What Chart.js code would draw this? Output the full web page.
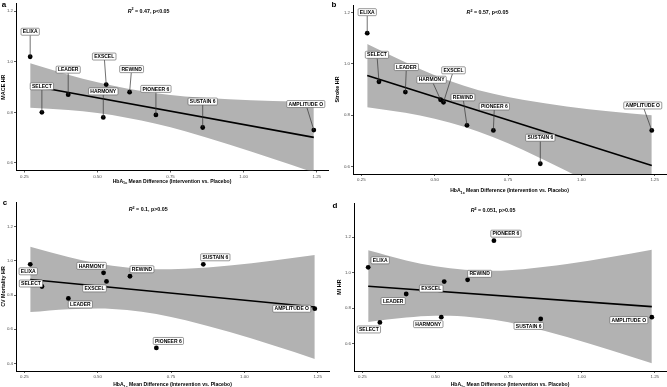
<!DOCTYPE html>
<html>
<head>
<meta charset="utf-8">
<title>HbA1c difference vs outcome HR</title>
<script src="https://cdn.jsdelivr.net/npm/chart.js@4.4.1/dist/chart.umd.min.js"></script>
<style>
  html, body { margin: 0; padding: 0; background: #fff; }
  #wrap { position: relative; width: 667px; height: 387px; overflow: hidden; }
  #wrap canvas { position: absolute; left: 0; top: 0; }
</style>
</head>
<body>
<div id="wrap">
  <canvas id="panelA" width="667" height="387"></canvas>
  <canvas id="panelB" width="667" height="387"></canvas>
  <canvas id="panelC" width="667" height="387"></canvas>
  <canvas id="panelD" width="667" height="387"></canvas>
</div>
<script>
// Trials and HbA1c mean difference (intervention vs placebo), shared by all panels
const trials = ['ELIXA', 'SELECT', 'LEADER', 'HARMONY', 'EXSCEL', 'REWIND', 'PIONEER 6', 'SUSTAIN 6', 'AMPLITUDE O'];
const hba1cDiff = [0.27, 0.31, 0.40, 0.52, 0.53, 0.61, 0.70, 0.86, 1.24];

// Hazard ratios per outcome
const maceHR = [1.02, 0.80, 0.87, 0.78, 0.91, 0.88, 0.79, 0.74, 0.73];
const strokeHR = [1.12, 0.93, 0.89, 0.86, 0.85, 0.76, 0.74, 0.61, 0.74];
const cvDeathHR = [0.98, 0.85, 0.78, 0.93, 0.88, 0.91, 0.49, 0.98, 0.72];
const miHR = [1.03, 0.72, 0.88, 0.75, 0.95, 0.96, 1.18, 0.74, 0.75];

// Regression line ends and 95% band
const fitX = [0.27, 1.24];
const maceFit = [0.906, 0.701];
const strokeFit = [0.955, 0.603];
const cvDeathFit = [0.891, 0.730];
const miFit = [0.924, 0.809];

const bandX = [0.27, 0.40, 0.50, 0.60, 0.70, 0.80, 0.95, 1.10, 1.24];
const maceUpper = [0.994, 0.949, 0.919, 0.894, 0.876, 0.863, 0.852, 0.845, 0.841];
const maceLower = [0.818, 0.809, 0.797, 0.779, 0.755, 0.725, 0.673, 0.616, 0.562];
const strokeUpper = [1.078, 1.006, 0.956, 0.915, 0.883, 0.860, 0.834, 0.814, 0.799];
const strokeLower = [0.831, 0.809, 0.786, 0.755, 0.714, 0.665, 0.582, 0.493, 0.407];
const cvDeathUpper = [1.083, 1.023, 0.985, 0.961, 0.951, 0.954, 0.973, 1.003, 1.034];
const cvDeathLower = [0.700, 0.717, 0.721, 0.712, 0.689, 0.652, 0.583, 0.504, 0.426];
const miUpper = [1.126, 1.069, 1.036, 1.016, 1.011, 1.020, 1.049, 1.088, 1.129];
const miLower = [0.723, 0.748, 0.758, 0.754, 0.735, 0.703, 0.638, 0.564, 0.490];

// Tick labels
const xTicks = [0.25, 0.50, 0.75, 1.00, 1.25];
const yTicksAB = [0.6, 0.8, 1.0, 1.2];
const yTicksC = [0.4, 0.6, 0.8, 1.0, 1.2];
const yTicksD = [0.6, 0.8, 1.0, 1.2];

// Fit statistics
const r2Values = ['0.47', '0.57', '0.1', '0.051'];
const pTexts = ['p<0.05', 'p<0.05', 'p>0.05', 'p>0.05'];

// label box offsets from each point (px)
const offsetsA = [[0, -25], [0, -26], [0, -25], [0, -26], [-2, -28], [2, -23], [0, -26], [0, -26], [-8, -26]];
const offsetsB = [[0, -21], [-2, -27], [1, -25], [-9, -20], [10, -32], [-4, -28], [1, -24], [0, -26], [-9, -25]];
const offsetsC = [[-2, 7], [-11, -3], [12, 6], [-12, -7], [-12, 7], [12, -7], [12, -7], [12, -7], [-23, 0]];
const offsetsD = [[12, -7], [-11, 7], [-13, 7], [-13, 7], [-13, 7], [12, -6], [12, -7], [-12, 7], [-23, 3]];

const FONT = '"Liberation Sans", Arial, Helvetica, sans-serif';
const X_MIN = 0.2215, X_MAX = 1.2885;

const panels = [
  { idx: 0, id: 'panelA', letter: 'a', letterAt: [4, 5], yTitle: 'MACE HR',
    hr: maceHR, fit: maceFit, upper: maceUpper, lower: maceLower,
    yMin: 0.57, yMax: 1.23, yTicks: yTicksAB, statsAt: [0.675, 1.2], offsets: offsetsA,
    pad: { left: 0, right: 339, top: 1.5, bottom: 206.5 }, yAxisW: 16, yTitleGap: 12.5, xTitleGap: 11 },
  { idx: 1, id: 'panelB', letter: 'b', letterAt: [334, 5], yTitle: 'Stroke HR',
    hr: strokeHR, fit: strokeFit, upper: strokeUpper, lower: strokeLower,
    yMin: 0.57, yMax: 1.23, yTicks: yTicksAB, statsAt: [0.68, 1.2], offsets: offsetsB,
    pad: { left: 333, right: 1, top: 5, bottom: 203 }, yAxisW: 20, yTitleGap: 15, xTitleGap: 17 },
  { idx: 2, id: 'panelC', letter: 'c', letterAt: [5, 203], yTitle: 'CV Mortality HR',
    hr: cvDeathHR, fit: cvDeathFit, upper: cvDeathUpper, lower: cvDeathLower,
    yMin: 0.355, yMax: 1.345, yTicks: yTicksC, statsAt: [0.672, 1.3], offsets: offsetsC,
    pad: { left: 0, right: 338, top: 202, bottom: 6 }, yAxisW: 16, yTitleGap: 12, xTitleGap: 14 },
  { idx: 3, id: 'panelD', letter: 'd', letterAt: [335, 206], yTitle: 'MI HR',
    hr: miHR, fit: miFit, upper: miUpper, lower: miLower,
    yMin: 0.447, yMax: 1.392, yTicks: yTicksD, statsAt: [0.697, 1.35], offsets: offsetsD,
    pad: { left: 333, right: 1, top: 203, bottom: 6 }, yAxisW: 21, yTitleGap: 14, xTitleGap: 14 }
];

// draws text runs [text, font, baselineShift] centred at cx
function drawRuns(ctx, runs, cx, cy) {
  let total = 0;
  runs.forEach(r => { ctx.font = r[1]; total += ctx.measureText(r[0]).width; });
  let x = cx - total / 2;
  ctx.textAlign = 'left';
  runs.forEach(r => {
    ctx.font = r[1];
    ctx.fillText(r[0], x, cy + r[2]);
    x += ctx.measureText(r[0]).width;
  });
}

const decor = {
  id: 'decor',
  afterDraw(chart) {
    const p = panels[chart.options.plugins.decor.index];
    const ctx = chart.ctx;
    const area = chart.chartArea;
    const xs = chart.scales.x, ys = chart.scales.y;
    ctx.save();
    ctx.fillStyle = '#000';
    ctx.textBaseline = 'middle';

    // panel letter
    ctx.textAlign = 'center';
    ctx.font = 'bold 8px ' + FONT;
    ctx.fillText(p.letter, p.letterAt[0], p.letterAt[1]);

    // y axis title
    ctx.save();
    ctx.translate(area.left - p.yTitleGap, (area.top + area.bottom) / 2);
    ctx.rotate(-Math.PI / 2);
    ctx.textAlign = 'center';
    ctx.font = 'bold 5.4px ' + FONT;
    ctx.fillText(p.yTitle, 0, 0);
    ctx.restore();

    // x axis title with subscript
    drawRuns(ctx, [
      ['HbA', 'bold 5.1px ' + FONT, 0],
      ['1c', 'bold 3.7px ' + FONT, 1.6],
      [' Mean Difference (Intervention vs. Placebo)', 'bold 5.1px ' + FONT, 0]
    ], (area.left + area.right) / 2, area.bottom + p.xTitleGap);

    // R^2 annotation
    drawRuns(ctx, [
      ['R', 'bold italic 5.3px ' + FONT, 0],
      ['2', 'bold 3.7px ' + FONT, -1.8],
      [' = ' + r2Values[p.idx] + ', ' + pTexts[p.idx], 'bold 5.3px ' + FONT, 0]
    ], xs.getPixelForValue(p.statsAt[0]), ys.getPixelForValue(p.statsAt[1]));

    // repelled-style labels: segments first, then boxes
    ctx.font = 'bold 5px ' + FONT;
    const boxes = trials.map((name, i) => {
      const px = xs.getPixelForValue(hba1cDiff[i]);
      const py = ys.getPixelForValue(p.hr[i]);
      const w = ctx.measureText(name).width + 3.6, h = 7;
      return { name, px, py, cx: px + p.offsets[i][0], cy: py + p.offsets[i][1], hw: w / 2, hh: h / 2 };
    });
    boxes.forEach(b => {
      const nx = Math.max(b.cx - b.hw, Math.min(b.px, b.cx + b.hw));
      const ny = Math.max(b.cy - b.hh, Math.min(b.py, b.cy + b.hh));
      if (Math.hypot(b.px - nx, b.py - ny) < 5) return;
      const dx = b.px - b.cx, dy = b.py - b.cy;
      const t = Math.min(dx ? b.hw / Math.abs(dx) : Infinity, dy ? b.hh / Math.abs(dy) : Infinity);
      ctx.beginPath();
      ctx.moveTo(b.cx + dx * t, b.cy + dy * t);
      ctx.lineTo(b.px, b.py);
      ctx.strokeStyle = '#333';
      ctx.lineWidth = 0.7;
      ctx.stroke();
    });
    ctx.textAlign = 'center';
    boxes.forEach(b => {
      ctx.beginPath();
      ctx.roundRect(b.cx - b.hw, b.cy - b.hh, b.hw * 2, b.hh * 2, 1);
      ctx.fillStyle = '#fff';
      ctx.fill();
      ctx.strokeStyle = '#555';
      ctx.lineWidth = 0.6;
      ctx.stroke();
      ctx.fillStyle = '#000';
      ctx.fillText(b.name, b.cx, b.cy + 0.3);
    });
    ctx.restore();
  }
};

function axisCommon() {
  return {
    type: 'linear',
    border: { display: true, color: '#000', width: 1 },
    grid: { drawOnChartArea: false, drawTicks: true, tickLength: 2, tickColor: '#333', tickWidth: 0.8 },
  };
}

panels.forEach(p => {
  const ctx = document.getElementById(p.id).getContext('2d');
  const xAxis = axisCommon();
  Object.assign(xAxis, {
    min: X_MIN, max: X_MAX,
    afterBuildTicks: s => { s.ticks = xTicks.map(v => ({ value: v })); },
    afterFit: s => { s.height = 10; },
    ticks: { font: { size: 4.4, family: FONT }, color: '#4d4d4d', padding: 1.5, maxRotation: 0, autoSkip: false,
             callback: v => v.toFixed(2) }
  });
  const yAxis = axisCommon();
  Object.assign(yAxis, {
    min: p.yMin, max: p.yMax,
    afterBuildTicks: s => { s.ticks = p.yTicks.map(v => ({ value: v })); },
    afterFit: s => { s.width = p.yAxisW; },
    ticks: { font: { size: 4.4, family: FONT }, color: '#4d4d4d', padding: 1, autoSkip: false,
             callback: v => v.toFixed(1) }
  });

  new Chart(ctx, {
    type: 'scatter',
    data: {
      datasets: [
        { data: hba1cDiff.map((x, i) => ({ x, y: p.hr[i] })),
          pointRadius: 2.4, pointBackgroundColor: '#000', pointBorderWidth: 0, order: 0 },
        { type: 'line', data: fitX.map((x, i) => ({ x, y: p.fit[i] })),
          borderColor: '#000', borderWidth: 1.6, pointRadius: 0, fill: false, order: 1 },
        { type: 'line', data: bandX.map((x, i) => ({ x, y: p.upper[i] })),
          borderColor: 'rgba(0,0,0,0)', borderWidth: 1, pointRadius: 0, backgroundColor: '#b2b2b2',
          fill: '+1', cubicInterpolationMode: 'monotone', order: 2 },
        { type: 'line', data: bandX.map((x, i) => ({ x, y: p.lower[i] })),
          borderColor: 'rgba(0,0,0,0)', borderWidth: 1, pointRadius: 0,
          fill: false, cubicInterpolationMode: 'monotone', order: 3 }
      ]
    },
    options: {
      responsive: false,
      animation: false,
      devicePixelRatio: 1,
      layout: { padding: p.pad, autoPadding: false },
      scales: { x: xAxis, y: yAxis },
      plugins: {
        legend: { display: false },
        tooltip: { enabled: false },
        decor: { index: p.idx }
      }
    },
    plugins: [decor]
  });
});
</script>
</body>
</html>
